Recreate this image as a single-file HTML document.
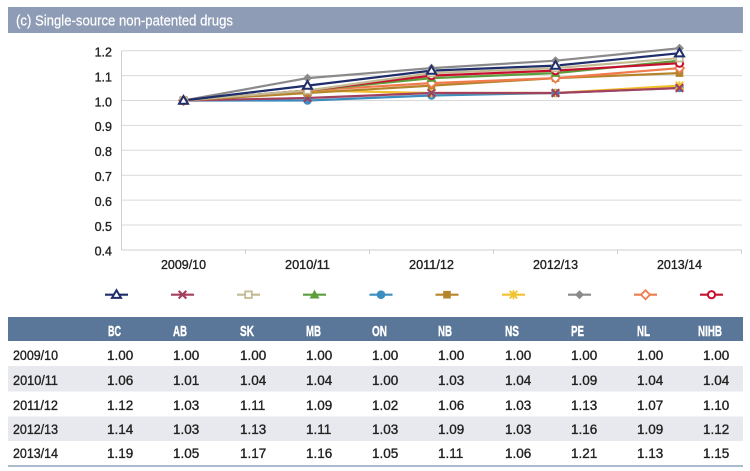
<!DOCTYPE html>
<html><head><meta charset="utf-8"><style>
html,body{margin:0;padding:0;background:#fff;}
svg{display:block;}
text{font-family:"Liberation Sans",sans-serif;}
</style></head><body>
<svg width="750" height="471" viewBox="0 0 750 471" xmlns="http://www.w3.org/2000/svg">
<defs>
  <g id="mBC"><polygon points="0,-4.5 4.5,3.2 -4.5,3.2" fill="#fff" stroke="#1f2d6b" stroke-width="2"/></g>
  <g id="mAB"><path d="M-3.8,-3.8L3.8,3.8M-3.8,3.8L3.8,-3.8" stroke="#a3405e" stroke-width="2.2"/></g>
  <g id="mSK"><rect x="-3.3" y="-3.3" width="6.6" height="6.6" fill="#fff" stroke="#c3bb93" stroke-width="1.8"/></g>
  <g id="mMB"><polygon points="0,-5 5,3.8 -5,3.8" fill="#5c9e3c"/></g>
  <g id="mON"><circle r="4.3" fill="#3a8ec0"/></g>
  <g id="mNB"><rect x="-3.8" y="-3.8" width="7.6" height="7.6" fill="#b5852c"/></g>
  <g id="mNS"><path d="M-3.8,-3.8L3.8,3.8M-3.8,3.8L3.8,-3.8M0,-4.5L0,4.5" stroke="#f2c12e" stroke-width="1.8"/></g>
  <g id="mPE"><polygon points="0,-4.5 4.5,0 0,4.5 -4.5,0" fill="#8a8a8a"/></g>
  <g id="mNL"><polygon points="0,-4.5 4.5,0 0,4.5 -4.5,0" fill="#fff" stroke="#ef7b4f" stroke-width="1.8"/></g>
  <g id="mNIHB"><circle r="3.6" fill="#fff" stroke="#c8102e" stroke-width="2"/></g>
</defs>

<!-- Title bar -->
<rect x="8" y="7" width="735" height="26" fill="#8e9cb6"/>
<text x="16" y="25.5" font-size="14.5" fill="#fff" stroke="#fff" stroke-width="0.2" textLength="217" lengthAdjust="spacingAndGlyphs">(c) Single-source non-patented drugs</text>

<!-- Gridlines -->
<g stroke="#d9d9d9" stroke-width="1">
  <line x1="121.5" y1="50.7" x2="742" y2="50.7"/>
  <line x1="121.5" y1="75.6" x2="742" y2="75.6"/>
  <line x1="121.5" y1="100.5" x2="742" y2="100.5"/>
  <line x1="121.5" y1="125.4" x2="742" y2="125.4"/>
  <line x1="121.5" y1="150.3" x2="742" y2="150.3"/>
  <line x1="121.5" y1="175.2" x2="742" y2="175.2"/>
  <line x1="121.5" y1="200.1" x2="742" y2="200.1"/>
  <line x1="121.5" y1="225.0" x2="742" y2="225.0"/>
</g>
<g stroke="#cfcfcf" stroke-width="1">
  <line x1="121.5" y1="50.7" x2="121.5" y2="250"/>
  <line x1="121.5" y1="250" x2="742" y2="250"/>
  <line x1="245.5" y1="250" x2="245.5" y2="254"/>
  <line x1="369.5" y1="250" x2="369.5" y2="254"/>
  <line x1="493.5" y1="250" x2="493.5" y2="254"/>
  <line x1="617.5" y1="250" x2="617.5" y2="254"/>
  <line x1="741.5" y1="250" x2="741.5" y2="254"/>
</g>

<!-- Y labels -->
<g font-size="12.5" fill="#222" stroke="#222" stroke-width="0.35" text-anchor="end">
  <text x="112" y="56.5">1.2</text>
  <text x="112" y="81.4">1.1</text>
  <text x="112" y="106.3">1.0</text>
  <text x="112" y="131.2">0.9</text>
  <text x="112" y="156.1">0.8</text>
  <text x="112" y="181">0.7</text>
  <text x="112" y="205.9">0.6</text>
  <text x="112" y="230.8">0.5</text>
  <text x="112" y="255.7">0.4</text>
</g>

<!-- X labels -->
<g font-size="13" fill="#222" stroke="#222" stroke-width="0.35" text-anchor="middle">
  <text x="183.5" y="269" textLength="45" lengthAdjust="spacingAndGlyphs">2009/10</text>
  <text x="307.5" y="269" textLength="45" lengthAdjust="spacingAndGlyphs">2010/11</text>
  <text x="431.5" y="269" textLength="45" lengthAdjust="spacingAndGlyphs">2011/12</text>
  <text x="555.5" y="269" textLength="45" lengthAdjust="spacingAndGlyphs">2012/13</text>
  <text x="679.5" y="269" textLength="45" lengthAdjust="spacingAndGlyphs">2013/14</text>
</g>

<!-- Series lines -->
<g fill="none" stroke-width="2.2" stroke-linejoin="round">
  <polyline stroke="#3a8ec0" points="183.5,100.5 307.5,100.5 431.5,95.5 555.5,93 679.5,88"/>
  <polyline stroke="#f2c12e" points="183.5,100.5 307.5,90.5 431.5,93 555.5,93 679.5,85.6"/>
  <polyline stroke="#a3405e" points="183.5,100.5 307.5,98 431.5,93 555.5,93 679.5,88"/>
  <polyline stroke="#b5852c" points="183.5,100.5 307.5,93 431.5,85.6 555.5,78.1 679.5,73.1"/>
  <polyline stroke="#ef7b4f" points="183.5,100.5 307.5,90.5 431.5,83.1 555.5,78.1 679.5,68.1"/>
  <polyline stroke="#5c9e3c" points="183.5,100.5 307.5,90.5 431.5,78.1 555.5,73.1 679.5,60.7"/>
  <polyline stroke="#c8102e" points="183.5,100.5 307.5,90.5 431.5,75.6 555.5,70.6 679.5,63.2"/>
  <polyline stroke="#c3bb93" points="183.5,100.5 307.5,90.5 431.5,73.1 555.5,68.1 679.5,58.2"/>
  <polyline stroke="#8a8a8a" points="183.5,100.5 307.5,78.1 431.5,68.1 555.5,60.7 679.5,48.2"/>
  <polyline stroke="#1f2d6b" points="183.5,100.5 307.5,85.6 431.5,70.6 555.5,65.6 679.5,53.2"/>
</g>

<!-- Markers -->
<g>
  <use href="#mON" x="183.5" y="100.5"/><use href="#mON" x="307.5" y="100.5"/><use href="#mON" x="431.5" y="95.5"/><use href="#mON" x="555.5" y="93"/><use href="#mON" x="679.5" y="88"/>
  <use href="#mNS" x="183.5" y="100.5"/><use href="#mNS" x="307.5" y="90.5"/><use href="#mNS" x="431.5" y="93"/><use href="#mNS" x="555.5" y="93"/><use href="#mNS" x="679.5" y="85.6"/>
  <use href="#mAB" x="183.5" y="100.5"/><use href="#mAB" x="307.5" y="98"/><use href="#mAB" x="431.5" y="93"/><use href="#mAB" x="555.5" y="93"/><use href="#mAB" x="679.5" y="88"/>
  <use href="#mNB" x="183.5" y="100.5"/><use href="#mNB" x="307.5" y="93"/><use href="#mNB" x="431.5" y="85.6"/><use href="#mNB" x="555.5" y="78.1"/><use href="#mNB" x="679.5" y="73.1"/>
  <use href="#mNL" x="183.5" y="100.5"/><use href="#mNL" x="307.5" y="90.5"/><use href="#mNL" x="431.5" y="83.1"/><use href="#mNL" x="555.5" y="78.1"/><use href="#mNL" x="679.5" y="68.1"/>
  <use href="#mMB" x="183.5" y="100.5"/><use href="#mMB" x="307.5" y="90.5"/><use href="#mMB" x="431.5" y="78.1"/><use href="#mMB" x="555.5" y="73.1"/><use href="#mMB" x="679.5" y="60.7"/>
  <use href="#mNIHB" x="183.5" y="100.5"/><use href="#mNIHB" x="307.5" y="90.5"/><use href="#mNIHB" x="431.5" y="75.6"/><use href="#mNIHB" x="555.5" y="70.6"/><use href="#mNIHB" x="679.5" y="63.2"/>
  <use href="#mSK" x="183.5" y="100.5"/><use href="#mSK" x="307.5" y="90.5"/><use href="#mSK" x="431.5" y="73.1"/><use href="#mSK" x="555.5" y="68.1"/><use href="#mSK" x="679.5" y="58.2"/>
  <use href="#mPE" x="183.5" y="100.5"/><use href="#mPE" x="307.5" y="78.1"/><use href="#mPE" x="431.5" y="68.1"/><use href="#mPE" x="555.5" y="60.7"/><use href="#mPE" x="679.5" y="48.2"/>
  <use href="#mBC" x="183.5" y="100.5"/><use href="#mBC" x="307.5" y="85.6"/><use href="#mBC" x="431.5" y="70.6"/><use href="#mBC" x="555.5" y="65.6"/><use href="#mBC" x="679.5" y="53.2"/>
</g>

<!-- Legend -->
<g stroke-width="2.2">
  <line x1="105" y1="294.7" x2="128" y2="294.7" stroke="#1f2d6b"/>
  <line x1="171" y1="294.7" x2="194" y2="294.7" stroke="#a3405e"/>
  <line x1="237" y1="294.7" x2="260" y2="294.7" stroke="#c3bb93"/>
  <line x1="303" y1="294.7" x2="326" y2="294.7" stroke="#5c9e3c"/>
  <line x1="369.5" y1="294.7" x2="392.5" y2="294.7" stroke="#3a8ec0"/>
  <line x1="435.5" y1="294.7" x2="458.5" y2="294.7" stroke="#b5852c"/>
  <line x1="502" y1="294.7" x2="525" y2="294.7" stroke="#f2c12e"/>
  <line x1="568" y1="294.7" x2="591" y2="294.7" stroke="#8a8a8a"/>
  <line x1="634" y1="294.7" x2="657" y2="294.7" stroke="#ef7b4f"/>
  <line x1="700" y1="294.7" x2="723" y2="294.7" stroke="#c8102e"/>
</g>
<use href="#mBC" x="116.5" y="294.7"/>
<use href="#mAB" x="182.5" y="294.7"/>
<use href="#mSK" x="248.5" y="294.7"/>
<use href="#mMB" x="314.5" y="294.7"/>
<use href="#mON" x="381" y="294.7"/>
<use href="#mNB" x="447" y="294.7"/>
<use href="#mNS" x="513.5" y="294.7"/>
<use href="#mPE" x="579.5" y="294.7"/>
<use href="#mNL" x="645.5" y="294.7"/>
<use href="#mNIHB" x="711.5" y="294.7"/>

<!-- Table -->
<rect x="8" y="317" width="735" height="24" fill="#5a7698"/>
<rect x="8" y="366" width="735" height="25.5" fill="#e8e9ee"/>
<rect x="8" y="416.5" width="735" height="24.5" fill="#e8e9ee"/>
<line x1="8" y1="466" x2="743" y2="466" stroke="#90a4be" stroke-width="1.5"/>

<g font-size="15" font-weight="bold" fill="#fff" stroke="#fff" stroke-width="0.4">
  <text x="108" y="336" textLength="13" lengthAdjust="spacingAndGlyphs">BC</text>
  <text x="173" y="336" textLength="14" lengthAdjust="spacingAndGlyphs">AB</text>
  <text x="240" y="336" textLength="14" lengthAdjust="spacingAndGlyphs">SK</text>
  <text x="306" y="336" textLength="15" lengthAdjust="spacingAndGlyphs">MB</text>
  <text x="372" y="336" textLength="15" lengthAdjust="spacingAndGlyphs">ON</text>
  <text x="438" y="336" textLength="14" lengthAdjust="spacingAndGlyphs">NB</text>
  <text x="505" y="336" textLength="14" lengthAdjust="spacingAndGlyphs">NS</text>
  <text x="571" y="336" textLength="13" lengthAdjust="spacingAndGlyphs">PE</text>
  <text x="637" y="336" textLength="13" lengthAdjust="spacingAndGlyphs">NL</text>
  <text x="698" y="336" textLength="24" lengthAdjust="spacingAndGlyphs">NIHB</text>
</g>

<g font-size="13.5" fill="#222" stroke="#222" stroke-width="0.35">
  <text x="13" y="360" textLength="45" lengthAdjust="spacingAndGlyphs">2009/10</text>
  <text x="13" y="385" textLength="45" lengthAdjust="spacingAndGlyphs">2010/11</text>
  <text x="13" y="410" textLength="45" lengthAdjust="spacingAndGlyphs">2011/12</text>
  <text x="13" y="434" textLength="45" lengthAdjust="spacingAndGlyphs">2012/13</text>
  <text x="13" y="458" textLength="45" lengthAdjust="spacingAndGlyphs">2013/14</text>
</g>

<g font-size="13.5" fill="#222" stroke="#222" stroke-width="0.35">
  <text y="360"><tspan x="107">1.00</tspan><tspan x="173">1.00</tspan><tspan x="240">1.00</tspan><tspan x="306">1.00</tspan><tspan x="372">1.00</tspan><tspan x="438">1.00</tspan><tspan x="505">1.00</tspan><tspan x="571">1.00</tspan><tspan x="637">1.00</tspan><tspan x="703">1.00</tspan></text>
  <text y="385"><tspan x="107">1.06</tspan><tspan x="173">1.01</tspan><tspan x="240">1.04</tspan><tspan x="306">1.04</tspan><tspan x="372">1.00</tspan><tspan x="438">1.03</tspan><tspan x="505">1.04</tspan><tspan x="571">1.09</tspan><tspan x="637">1.04</tspan><tspan x="703">1.04</tspan></text>
  <text y="410"><tspan x="107">1.12</tspan><tspan x="173">1.03</tspan><tspan x="240">1.11</tspan><tspan x="306">1.09</tspan><tspan x="372">1.02</tspan><tspan x="438">1.06</tspan><tspan x="505">1.03</tspan><tspan x="571">1.13</tspan><tspan x="637">1.07</tspan><tspan x="703">1.10</tspan></text>
  <text y="434"><tspan x="107">1.14</tspan><tspan x="173">1.03</tspan><tspan x="240">1.13</tspan><tspan x="306">1.11</tspan><tspan x="372">1.03</tspan><tspan x="438">1.09</tspan><tspan x="505">1.03</tspan><tspan x="571">1.16</tspan><tspan x="637">1.09</tspan><tspan x="703">1.12</tspan></text>
  <text y="458"><tspan x="107">1.19</tspan><tspan x="173">1.05</tspan><tspan x="240">1.17</tspan><tspan x="306">1.16</tspan><tspan x="372">1.05</tspan><tspan x="438">1.11</tspan><tspan x="505">1.06</tspan><tspan x="571">1.21</tspan><tspan x="637">1.13</tspan><tspan x="703">1.15</tspan></text>
</g>
</svg>
</body></html>
